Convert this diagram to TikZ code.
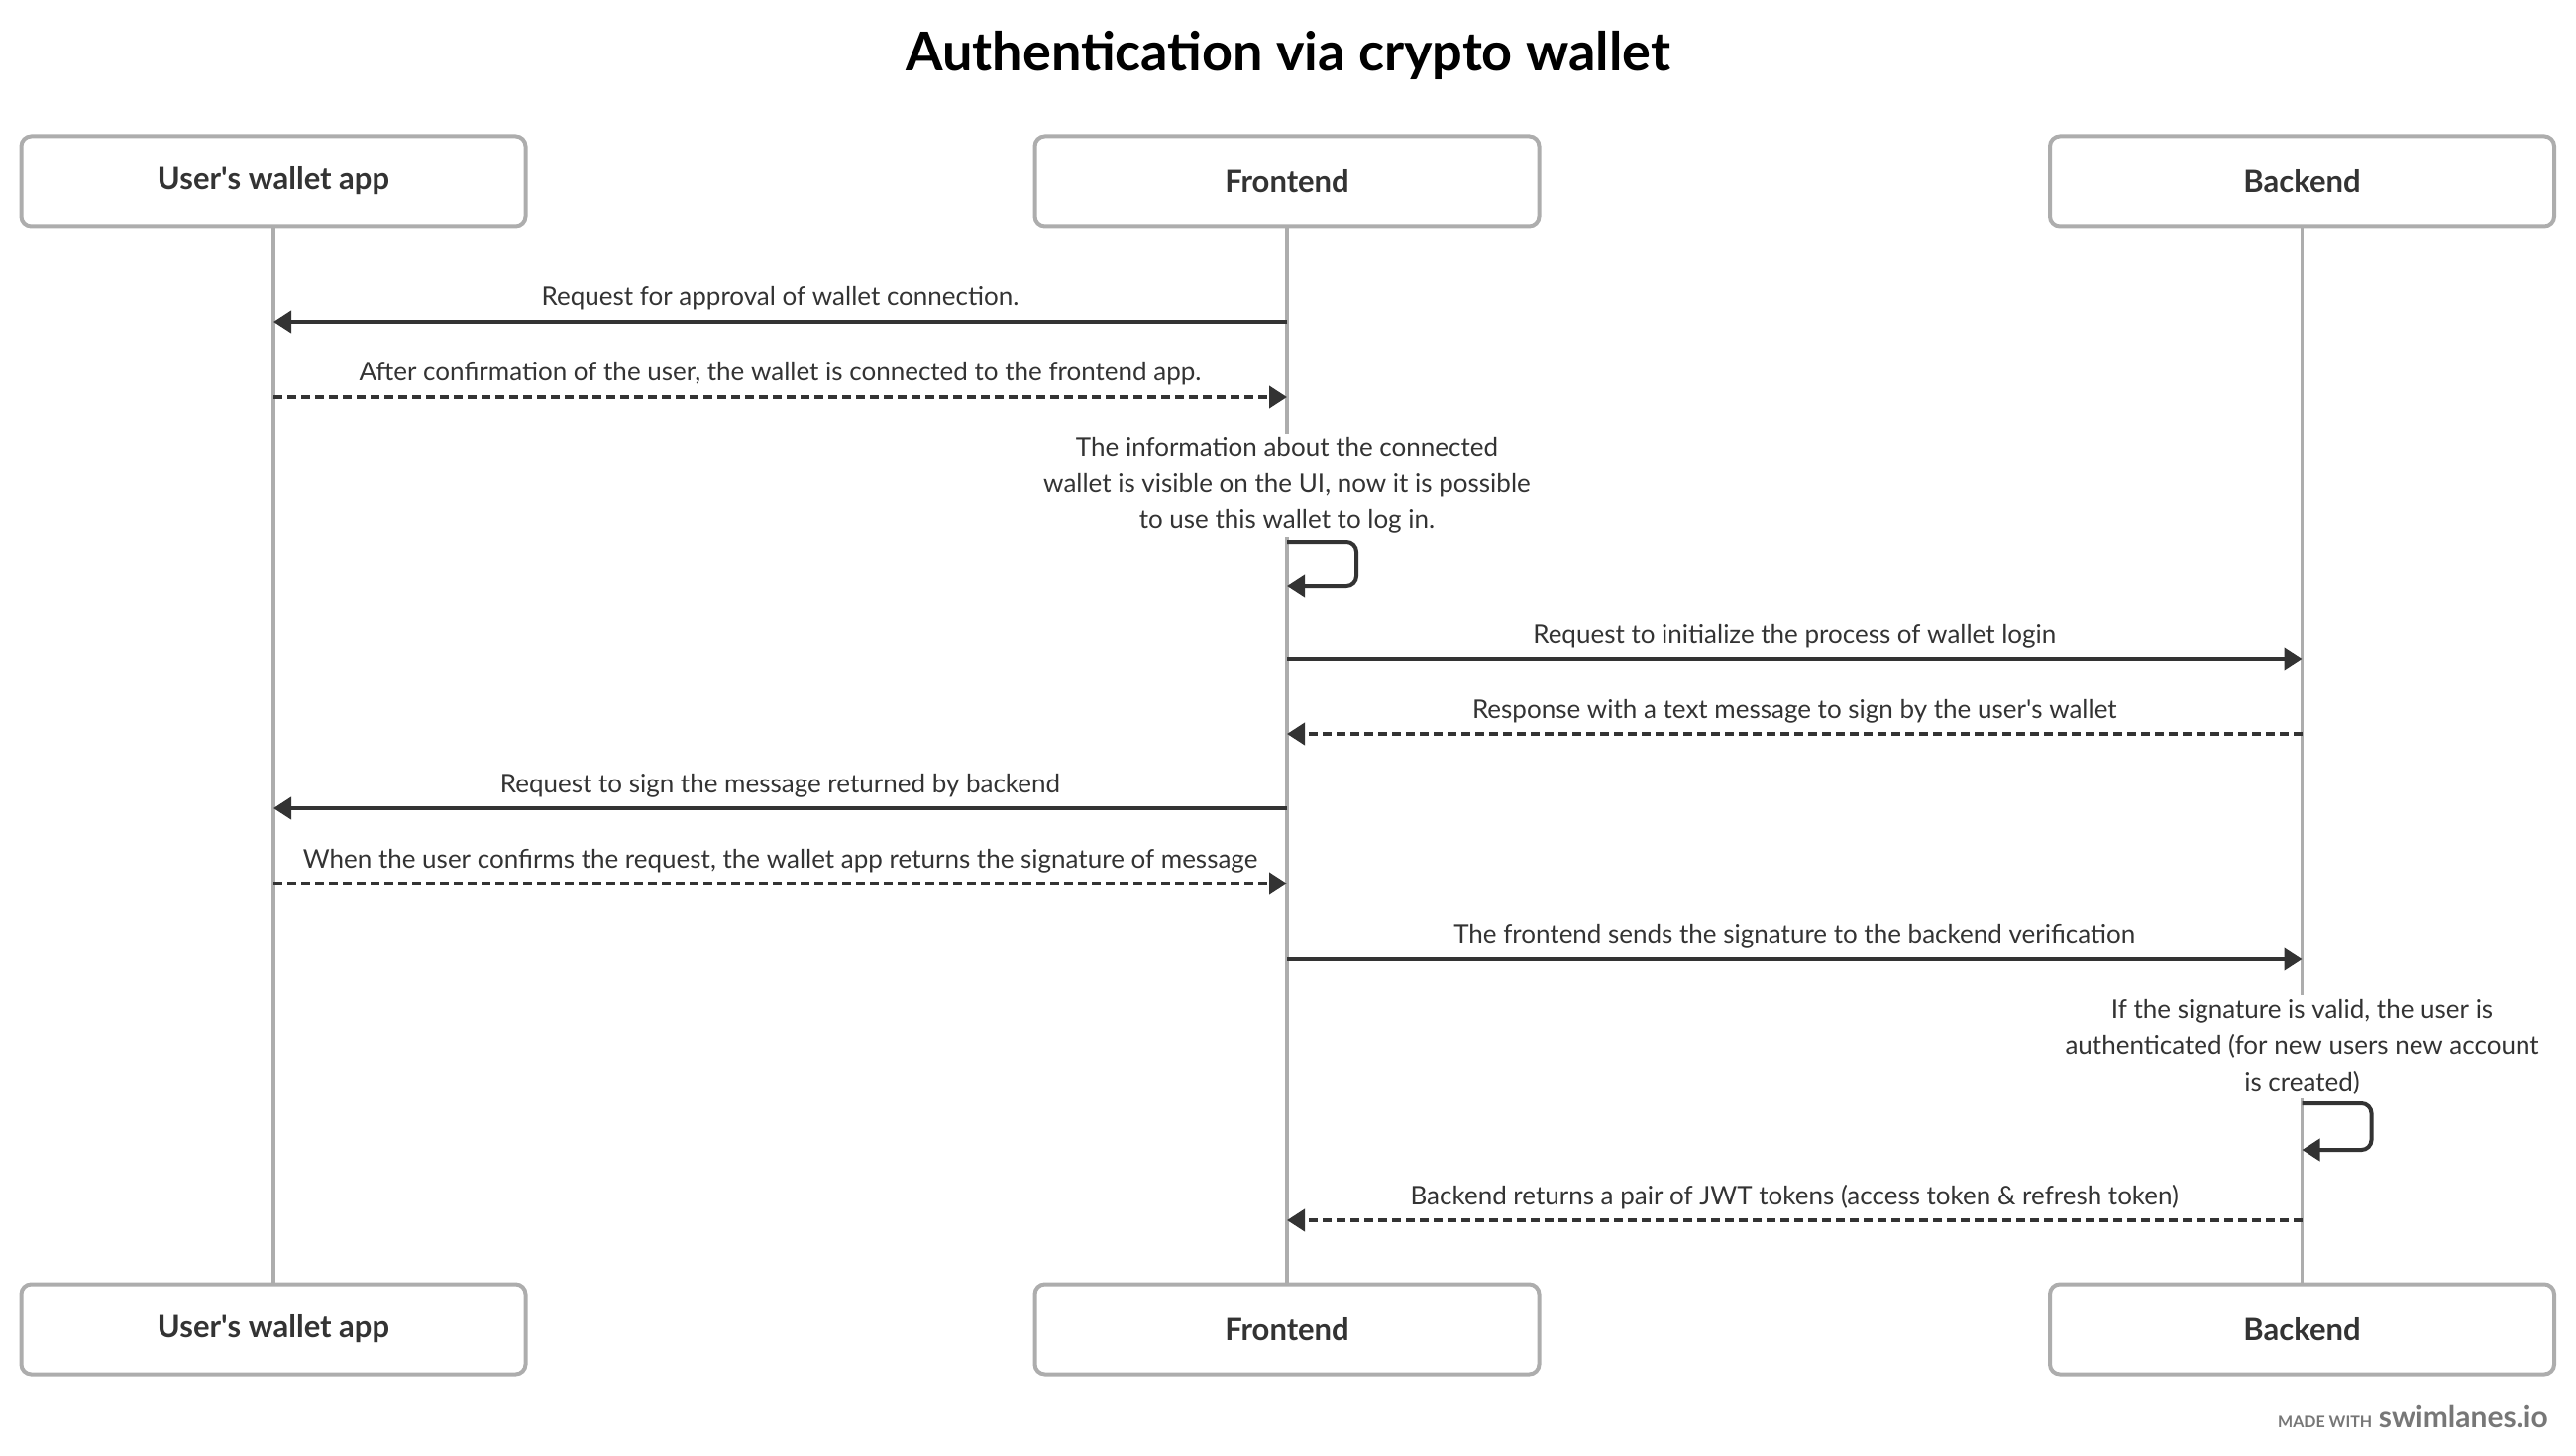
\documentclass[tikz,border=0pt]{standalone}
\usepackage{fontspec}
\setmainfont{Lato}
\usetikzlibrary{arrows.meta}
\definecolor{lgray}{HTML}{ADADAD}
\definecolor{dark}{HTML}{333333}
\definecolor{wmgray}{HTML}{777777}
\begin{document}
\begin{tikzpicture}[x=0.5pt,y=-0.5pt,
 actor/.style={draw=lgray, line width=2pt, rounded corners=5pt, minimum width=254.5pt, minimum height=45.5pt, fill=white, font=\fontsize{15.5}{18}\selectfont\bfseries, text=dark},
 life/.style={draw=lgray, line width=1.8pt},
 msg/.style={draw=dark, line width=2pt, -{Triangle[length=9pt,width=11pt]}},
 rmsg/.style={msg, dash pattern=on 4.5pt off 2.5pt},
 lbl/.style={font=\fontsize{13}{16}\selectfont, text=dark, anchor=base, yshift=8pt, inner sep=0pt},
 note/.style={font=\fontsize{13}{18.25}\selectfont, text=dark, align=center, fill=white, inner sep=2pt},
]
\useasboundingbox (0,0) rectangle (2600,1470);
\def\xw{276}\def\xf{1299}\def\xb{2323.5}
\node[font=\fontsize{27}{32}\selectfont\bfseries, text=black] (title) at (1300,56) {Authentication via crypto wallet};
\node[actor] (wt) at (\xw,183) {User\textquotesingle s wallet app};
\node[actor] (ft) at (\xf,183) {Frontend};
\node[actor] (bt) at (\xb,183) {Backend};
\node[actor] (wb) at (\xw,1342) {User\textquotesingle s wallet app};
\node[actor] (fb) at (\xf,1342) {Frontend};
\node[actor] (bb) at (\xb,1342) {Backend};
\draw[life] (wt.south) -- (wb.north);
\draw[life] (ft.south) -- (fb.north);
\draw[life] (bt.south) -- (bb.north);
% coordinates
\coordinate (f1) at (\xf,325); \coordinate (w1) at (\xw,325);
\coordinate (w2) at (\xw,401); \coordinate (f2) at (\xf,401);
\coordinate (s1a) at (\xf,547); \coordinate (s1b) at (\xf,592);
\coordinate (f4) at (\xf,665); \coordinate (b4) at (\xb,665);
\coordinate (b5) at (\xb,741); \coordinate (f5) at (\xf,741);
\coordinate (f6) at (\xf,816); \coordinate (w6) at (\xw,816);
\coordinate (w7) at (\xw,892); \coordinate (f7) at (\xf,892);
\coordinate (f8) at (\xf,968); \coordinate (b8) at (\xb,968);
\coordinate (s2a) at (\xb,1114); \coordinate (s2b) at (\xb,1161);
\coordinate (b10) at (\xb,1232); \coordinate (f10) at (\xf,1232);
% messages
\draw[msg] (f1) -- node[lbl] {Request for approval of wallet connection.} (w1);
\draw[rmsg] (w2) -- node[lbl] {After confirmation of the user, the wallet is connected to the frontend app.} (f2);
\node[note] (n1) at (\xf,490) {The information about the connected\\wallet is visible on the UI, now it is possible\\to use this wallet to log in.};
\draw[msg, rounded corners=5pt] (s1a) -- ++(70,0) -- ++(0,45) -- (s1b);
\draw[msg] (f4) -- node[lbl] {Request to initialize the process of wallet login} (b4);
\draw[rmsg] (b5) -- node[lbl] {Response with a text message to sign by the user\textquotesingle s wallet} (f5);
\draw[msg] (f6) -- node[lbl] {Request to sign the message returned by backend} (w6);
\draw[rmsg] (w7) -- node[lbl] {When the user confirms the request, the wallet app returns the signature of message} (f7);
\draw[msg] (f8) -- node[lbl] {The frontend sends the signature to the backend verification} (b8);
\node[note] (n2) at (\xb,1057) {If the signature is valid, the user is\\authenticated (for new users new account\\is created)};
\draw[msg, rounded corners=5pt] (s2a) -- ++(70,0) -- ++(0,47) -- (s2b);
\draw[rmsg] (b10) -- node[lbl] {Backend returns a pair of JWT tokens (access token \& refresh token)} (f10);
\node[anchor=base east, text=wmgray, inner sep=0pt] (wm) at (2572,1441) {{\fontsize{8}{8}\selectfont\bfseries MADE WITH}\,\,{\fontsize{15}{15}\selectfont\bfseries swimlanes.io}};
\end{tikzpicture}
\end{document}
